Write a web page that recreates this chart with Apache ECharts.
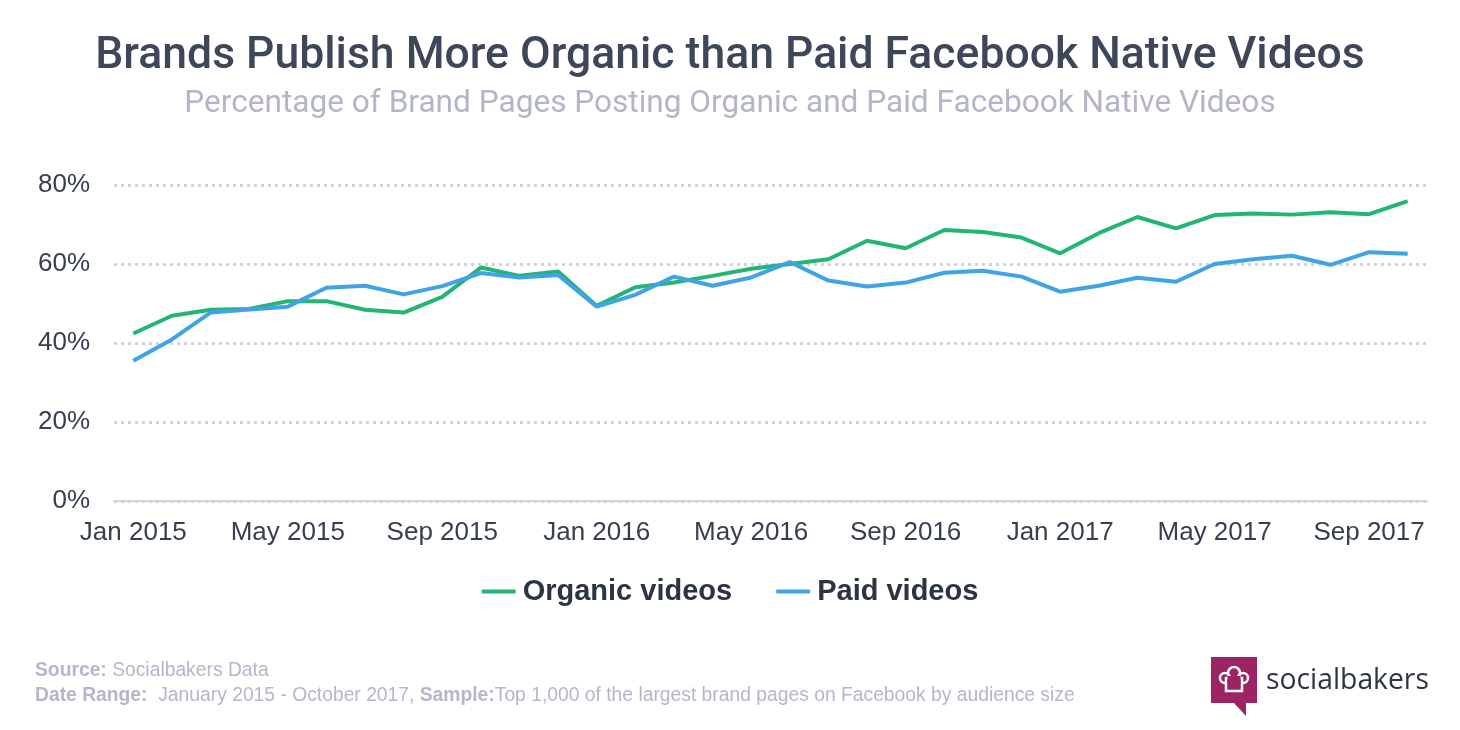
<!DOCTYPE html>
<html><head><meta charset="utf-8">
<script src="https://cdn.jsdelivr.net/npm/echarts@6/dist/echarts.min.js"></script>
<style>html,body{margin:0;padding:0;background:#fff}#c{width:1460px;height:730px}</style>
</head><body><div id="c"></div>
<script>
const months = ['Jan 2015','Feb 2015','Mar 2015','Apr 2015','May 2015','Jun 2015','Jul 2015','Aug 2015','Sep 2015','Oct 2015','Nov 2015','Dec 2015',
'Jan 2016','Feb 2016','Mar 2016','Apr 2016','May 2016','Jun 2016','Jul 2016','Aug 2016','Sep 2016','Oct 2016','Nov 2016','Dec 2016',
'Jan 2017','Feb 2017','Mar 2017','Apr 2017','May 2017','Jun 2017','Jul 2017','Aug 2017','Sep 2017','Oct 2017'];
const organic = [42.4,46.9,48.4,48.6,50.6,50.6,48.4,47.7,51.7,59.1,57.0,58.1,49.4,54.1,55.3,57.0,58.8,60.0,61.2,65.9,64.0,68.6,68.1,66.7,62.7,67.8,71.9,69.0,72.4,72.8,72.5,73.1,72.6,75.9];
const paid = [35.5,40.9,47.7,48.5,49.2,54.0,54.5,52.3,54.4,57.7,56.6,57.2,49.2,52.2,56.8,54.5,56.6,60.5,55.8,54.3,55.3,57.8,58.3,56.8,53.0,54.5,56.5,55.5,60.0,61.2,62.1,59.8,63.0,62.6];
const yTicks = [0,20,40,60,80];
const seriesNames = ['Organic videos','Paid videos'];

const chart = echarts.init(document.getElementById('c'));
const axisFont = {fontFamily:'Liberation Sans, Arial, sans-serif', fontSize:26, color:'#363f4f'};
const foot = {fontFamily:'Liberation Sans, Arial, sans-serif', fontSize:19.3, fontWeight:'normal', color:'#b6b6ca'};
chart.setOption({
  animation:false,
  color:['#22b573','#3fa3e6'],
  title:[
    {text:'Brands Publish More Organic than Paid Facebook Native Videos', left:'center', top:29,
     textStyle:{fontFamily:'Roboto, sans-serif', fontWeight:500, fontSize:44.5, color:'#3d4759'}},
    {text:'Percentage of Brand Pages Posting Organic and Paid Facebook Native Videos', left:'center', top:83,
     textStyle:{fontFamily:'Roboto, sans-serif', fontWeight:400, fontSize:31.6, color:'#b3b5c8'}},
    {text:'{b|Source:} Socialbakers Data', left:30, top:656,
     textStyle:Object.assign({rich:{b:Object.assign({},foot,{fontWeight:'bold'})}}, foot)},
    {text:'{b|Date Range:}  January 2015 - October 2017, {b|Sample:}Top 1,000 of the largest brand pages on Facebook by audience size', left:30, top:681,
     textStyle:Object.assign({rich:{b:Object.assign({},foot,{fontWeight:'bold'})}}, foot)},
    {text:'socialbakers', left:1261, top:662,
     textStyle:{fontFamily:'Open Sans, Roboto, sans-serif', fontWeight:500, fontSize:28.3, color:'#2f3640'}}
  ],
  legend:{data:seriesNames, left:'center', top:572, itemWidth:34, itemHeight:4, itemGap:44,
    icon:'roundRect',
    textStyle:{fontFamily:'Liberation Sans, Arial, sans-serif', fontWeight:'bold', fontSize:29, color:'#2c3443', padding:[0,0,0,2]}},
  grid:{left:114, right:33, top:185, bottom:229},
  xAxis:{type:'category', data:months, boundaryGap:true,
    axisLine:{lineStyle:{color:'#d5d5e0', width:2}},
    axisTick:{show:false},
    axisLabel:Object.assign({interval:3, margin:19}, axisFont),
    splitLine:{show:false}},
  yAxis:{type:'value', min:0, max:80, interval:20,
    axisLine:{show:false}, axisTick:{show:false},
    axisLabel:Object.assign({margin:24, formatter:v=>yTicks.includes(v)?v+'%':''}, axisFont),
    splitLine:{lineStyle:{color:'#d0d0de', type:[3,4], width:3}}},
  series:[
    {name:seriesNames[0], type:'line', data:organic, showSymbol:false, lineStyle:{width:4}, z:3},
    {name:seriesNames[1], type:'line', data:paid, showSymbol:false, lineStyle:{width:4}, z:4}
  ],
  graphic:[
    {type:'rect', shape:{x:1211, y:657, width:46, height:46}, style:{fill:'#9c2462'}},
    {type:'polygon', shape:{points:[[1233,702],[1246,702],[1246,716]]}, style:{fill:'#9c2462'}},
    {type:'circle', shape:{cx:1225, cy:678, r:5}, style:{fill:'none', stroke:'#fff', lineWidth:2.5}},
    {type:'circle', shape:{cx:1234, cy:673, r:6}, style:{fill:'none', stroke:'#fff', lineWidth:2.5}},
    {type:'circle', shape:{cx:1243, cy:678, r:5}, style:{fill:'none', stroke:'#fff', lineWidth:2.5}},
    {type:'rect', shape:{x:1226, y:678, width:16, height:13}, style:{fill:'#9c2462', stroke:'#fff', lineWidth:2.5}},
    {type:'rect', shape:{x:1227.5, y:676, width:13, height:8}, style:{fill:'#9c2462'}}
  ]
});
</script></body></html>
